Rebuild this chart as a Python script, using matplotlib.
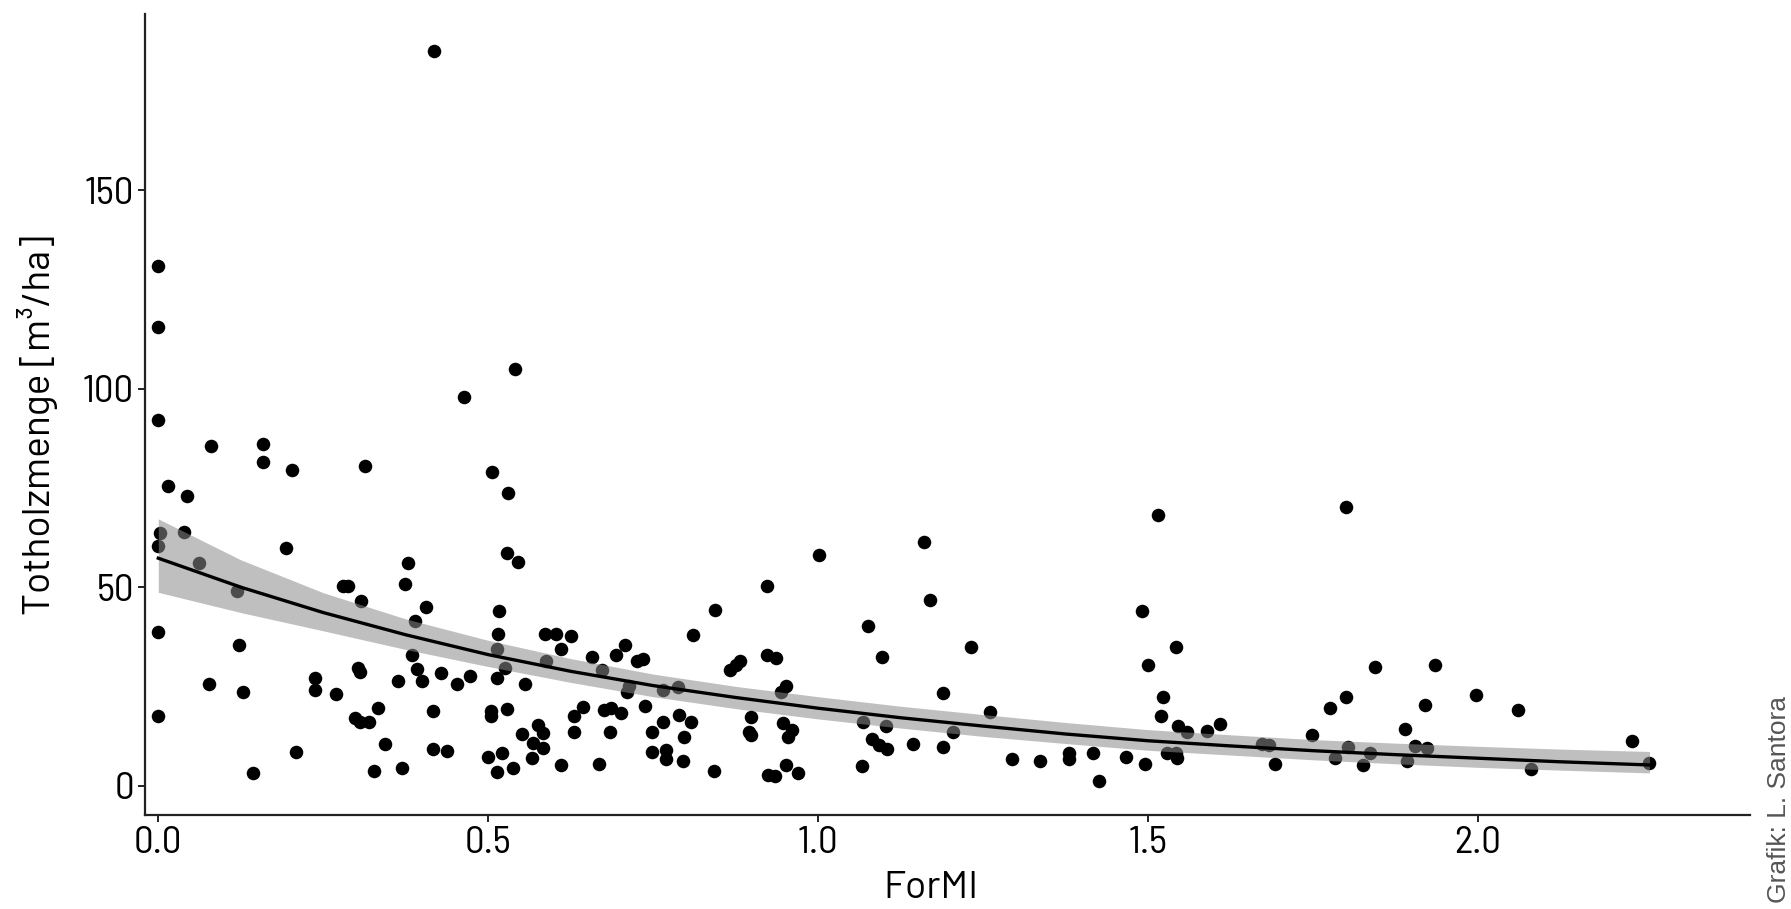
import matplotlib
matplotlib.use("Agg")
import matplotlib.pyplot as plt

# scatter data
formi = [0.0, 0.0, 0.418, 0.463, 0.541,
         0.0, 0.080, 0.158, 0.158, 0.203, 0.313, 0.014, 0.044, 0.506, 0.530,
         0.003, 0.0, 0.039, 0.061, 0.194, 0.528, 0.545, 0.379, 0.374, 0.280,
         0.288, 0.307, 0.405, 0.119, 0.389, 0.516, 0.515, 0.586, 0.514, 0.526,
         0.0, 0.123, 0.385, 0.392, 0.400, 0.428, 0.452, 0.473, 0.514, 0.556,
         0.302, 0.305, 0.363, 0.077, 0.128, 0.238, 0.237, 0.270, 0.0, 0.298,
         0.305, 0.320, 0.333, 0.416, 0.504, 0.505, 0.528, 0.343, 0.417, 0.437,
         0.209, 0.144, 0.327, 0.370, 0.500, 0.521, 0.513, 0.537, 0.551, 0.576,
         0.568, 0.583, 0.567, 0.583, 0.588,
         0.603, 0.625, 0.610, 0.657, 0.672, 0.693, 0.707, 0.725, 0.735, 0.710,
         0.714, 0.737, 0.644, 0.630, 0.630, 0.676, 0.686, 0.701, 0.684, 0.610,
         0.668, 0.765, 0.788, 0.810, 0.843, 0.866, 0.876, 0.882, 0.765, 0.749,
         0.789, 0.808, 0.796, 0.748, 0.770, 0.770, 0.795, 0.842, 0.923, 0.923,
         0.936, 1.002, 0.951, 0.944, 0.899, 0.896, 0.899, 0.947, 0.960, 0.955,
         0.951, 0.924, 0.934, 0.970, 1.161, 1.170, 1.075, 1.097, 1.189, 1.068,
         1.103, 1.081, 1.092, 1.104, 1.144, 1.066, 1.189,
         1.232, 1.260, 1.205, 1.294, 1.337, 1.380, 1.380, 1.416, 1.425, 1.466,
         1.496, 1.515, 1.491, 1.500, 1.543, 1.522, 1.519, 1.545, 1.559, 1.528,
         1.542, 1.544, 1.589, 1.609, 1.673, 1.683, 1.693, 1.748, 1.776, 1.784,
         1.800, 1.800, 1.803,
         1.826, 1.836, 1.844, 1.890, 1.904, 1.923, 1.893, 1.920, 1.935, 1.997,
         2.061, 2.080, 2.234, 2.259]
totholz = [131, 115.5, 185, 98, 105,
           92.2, 85.6, 86.1, 81.5, 79.6, 80.6, 75.4, 73.0, 78.9, 73.7,
           63.6, 60.4, 63.8, 56.2, 59.8, 58.7, 56.4, 56.2, 50.8, 50.3,
           50.3, 46.6, 45.0, 49.1, 41.5, 43.9, 38.2, 38.2, 34.4, 29.7,
           38.6, 35.3, 32.9, 29.3, 26.4, 28.3, 25.5, 27.5, 27.1, 25.5,
           29.6, 28.5, 26.4, 25.5, 23.7, 27.1, 24.1, 23.0, 17.6, 17.1,
           15.9, 16.1, 19.5, 18.7, 18.7, 17.6, 19.3, 10.5, 9.2, 8.6,
           8.4, 3.1, 3.7, 4.4, 7.1, 8.3, 3.5, 4.4, 13.0, 15.3,
           10.7, 9.4, 6.9, 13.2, 31.3,
           38.2, 37.6, 34.4, 32.5, 29.2, 32.9, 35.3, 31.3, 31.8, 23.7,
           25.0, 20.1, 19.7, 17.6, 13.6, 19.1, 19.5, 18.2, 13.6, 5.2,
           5.4, 24.1, 24.8, 38.0, 44.3, 29.2, 30.4, 31.3, 15.9, 13.4,
           17.8, 16.1, 12.2, 8.4, 9.0, 6.6, 6.2, 3.8, 50.2, 32.9,
           32.1, 58.2, 25.1, 23.7, 17.2, 13.4, 12.8, 15.7, 14.0, 12.2,
           5.2, 2.7, 2.4, 3.1, 61.3, 46.8, 40.1, 32.5, 23.4, 16.1,
           14.9, 11.8, 10.3, 9.2, 10.5, 5.0, 9.8,
           35.0, 18.5, 13.6, 6.6, 6.2, 8.2, 6.6, 8.3, 1.2, 7.1,
           5.5, 68.2, 44.1, 30.3, 35.0, 22.3, 17.6, 15.0, 13.4, 8.3,
           8.3, 6.9, 13.8, 15.5, 10.5, 10.3, 5.4, 12.8, 19.5, 6.9,
           70.3, 22.4, 9.8,
           5.2, 8.3, 30.0, 14.2, 10.0, 9.4, 6.1, 20.3, 30.4, 22.9,
           19.1, 4.1, 11.3, 5.6]

# smoother (fit + confidence band)
fit_x = [0.0, 0.125, 0.25, 0.375, 0.5, 0.625, 0.75, 0.875, 1.0, 1.125,
         1.25, 1.375, 1.5, 1.625, 1.75, 1.875, 2.0, 2.125, 2.26]
fit_y = [57.3, 50.0, 43.6, 38.0, 33.0, 28.8, 25.2, 22.2, 19.5, 17.1,
         15.0, 13.0, 11.3, 10.0, 8.8, 7.8, 6.9, 6.0, 5.2]
fit_lo = [48.7, 43.6, 39.0, 34.3, 30.0, 26.0, 22.4, 19.4, 16.8, 14.5,
          12.4, 10.6, 8.9, 7.7, 6.5, 5.5, 4.6, 3.9, 3.2]
fit_hi = [67.2, 56.9, 48.6, 42.0, 36.6, 32.0, 28.1, 25.0, 22.4, 20.0,
          17.9, 15.9, 14.1, 12.8, 11.6, 10.7, 9.9, 9.2, 8.6]

xticks = [0.0, 0.5, 1.0, 1.5, 2.0]
yticks = [0, 50, 100, 150]

plt.rcParams["font.family"] = ["Barlow Semi Condensed", "DejaVu Sans"]

fig = plt.figure(figsize=(17.91, 9.09), dpi=100)
ax = fig.add_axes([0.081, 0.103, 0.896, 0.882])

ax.scatter(formi, totholz, s=95, color="black", linewidths=0, zorder=2)
ax.fill_between(fit_x, fit_lo, fit_hi, color="#8c8c8c", alpha=0.55,
                linewidth=0, zorder=3)
ax.plot(fit_x, fit_y, color="black", linewidth=2.4, zorder=4)

ax.set_xlim(-0.02, 2.412)
ax.set_ylim(-7.5, 194.5)
ax.set_xticks(xticks)
ax.set_xticklabels([f"{t:.1f}" for t in xticks])
ax.set_yticks(yticks)

for side in ["top", "right"]:
    ax.spines[side].set_visible(False)
for side in ["left", "bottom"]:
    ax.spines[side].set_linewidth(1.6)
    ax.spines[side].set_color("#222222")
ax.tick_params(length=5, width=1.4, labelsize=28, pad=3, colors="#222222",
               labelcolor="black")

title_font = ["Barlow", "Barlow Semi Condensed", "DejaVu Sans"]
ax.set_xlabel("ForMI", fontsize=28, family=title_font)
ax.set_ylabel("Totholzmenge [m³/ha]", fontsize=28, family=title_font)
ax.xaxis.set_label_coords(0.49, -0.07)
ax.yaxis.set_label_coords(-0.054, 0.487)

fig.text(0.9935, 0.0066, "Grafik: L. Santora", rotation=90, fontsize=19,
         color="#555555", ha="center", va="bottom",
         family=["Liberation Sans", "DejaVu Sans"])

fig.savefig("out.png", dpi=100)
